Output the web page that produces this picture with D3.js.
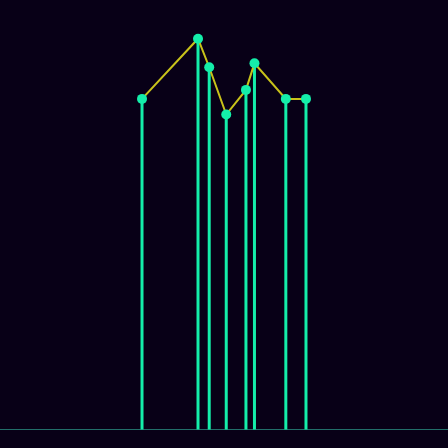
<!DOCTYPE html>
<html>
<head>
<meta charset="utf-8">
<script src="https://cdn.jsdelivr.net/npm/d3@7"></script>
<style>
  html, body { margin: 0; padding: 0; background: #080017; }
</style>
</head>
<body>
<div id="chart"></div>
<script>
// stem positions along x and their heights
const xValues = [31.7, 44.2, 46.7, 50.5, 54.9, 56.8, 63.8, 68.3];
const yValues = [84.6, 100, 92.7, 80.6, 86.9, 93.7, 84.6, 84.6];

const width = 448, height = 448;

const svg = d3.select("#chart").append("svg")
    .attr("width", width)
    .attr("height", height)
    .style("background", "#080017");

const x = d3.scaleLinear().domain([0, 100]).range([0, 448]);
const y = d3.scaleLinear().domain([0, 100]).range([429.5, 38.7]);

const data = xValues.map((v, i) => ({x: v, y: yValues[i]}));

// baseline
svg.append("line")
    .attr("x1", 0)
    .attr("x2", width)
    .attr("y1", y(0))
    .attr("y2", y(0))
    .style("stroke", "#226e6a")
    .style("stroke-width", 1);

// stems
svg.append("g").selectAll("line")
    .data(data)
    .join("line")
    .attr("x1", d => x(d.x))
    .attr("x2", d => x(d.x))
    .attr("y1", y(0))
    .attr("y2", d => y(d.y))
    .style("stroke", "#14eeaa")
    .style("stroke-width", 3);

// connecting line
svg.append("path")
    .datum(data)
    .attr("d", d3.line().x(d => x(d.x)).y(d => y(d.y)))
    .style("fill", "none")
    .style("stroke", "#c8c21a")
    .style("stroke-width", 2);

// dots
svg.append("g").selectAll("circle")
    .data(data)
    .join("circle")
    .attr("cx", d => x(d.x))
    .attr("cy", d => y(d.y))
    .attr("r", 5)
    .style("fill", "#14eeaa");
</script>
</body>
</html>
